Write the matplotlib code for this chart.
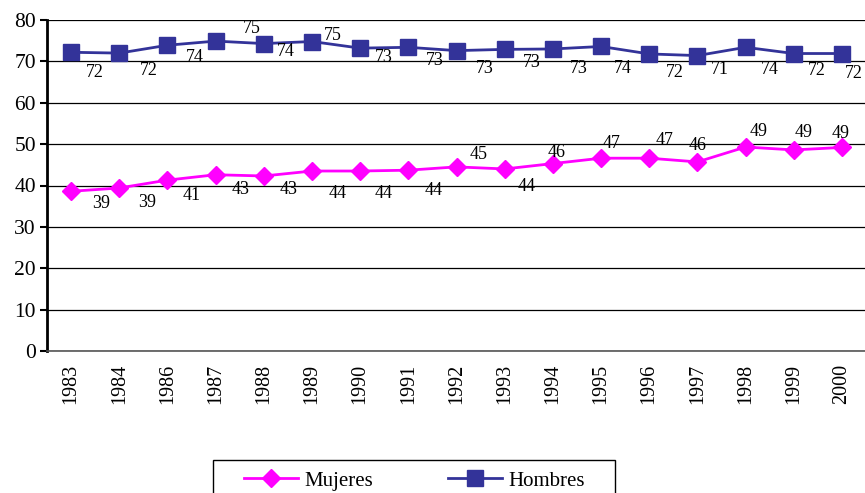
import matplotlib
matplotlib.use("Agg")
import matplotlib.pyplot as plt
from matplotlib.patches import Rectangle

years = ["1983", "1984", "1986", "1987", "1988", "1989", "1990", "1991", "1992",
         "1993", "1994", "1995", "1996", "1997", "1998", "1999", "2000"]
mujeres = [38.6, 39.4, 41.3, 42.6, 42.3, 43.5, 43.5, 43.7, 44.5, 44.0, 45.3,
           46.6, 46.6, 45.7, 49.3, 48.6, 49.2]
hombres = [72.2, 72.0, 73.9, 74.9, 74.3, 74.8, 73.2, 73.4, 72.6, 72.9, 73.0,
           73.6, 71.8, 71.4, 73.4, 71.9, 71.9]
mujeres_labels = ["39", "39", "41", "43", "43", "44", "44", "44", "45", "44", "46",
                  "47", "47", "46", "49", "49", "49"]
hombres_labels = ["72", "72", "74", "75", "74", "75", "73", "73", "73", "73", "73",
                  "74", "72", "71", "74", "72", "72"]
yticks = [0, 10, 20, 30, 40, 50, 60, 70, 80]

# label offsets in pixels (dx, dy) relative to the point
h_off = [(24, -20), (30, -17), (27, -12), (36, 13), (22, -8), (21, 6), (24, -9), (26, -13),
         (28, -18), (27, -13), (26, -20), (22, -22), (26, -19), (22, -14), (24, -22), (23, -17), (12, -20)]
m_off = [(30, -12), (28, -15), (24, -15), (25, -15), (25, -14), (26, -22), (23, -22), (25, -20),
         (22, 12), (22, -18), (4, 11), (11, 15), (15, 18), (0, 16), (13, 16), (10, 17), (-1, 14)]

serif = ["Liberation Serif", "DejaVu Serif"]
plt.rcParams["font.family"] = serif

W, H = 865, 493
fig = plt.figure(figsize=(W / 100, H / 100), dpi=100)
ax = fig.add_axes([47 / W, 1 - 351 / H, (866 - 47) / W, (351 - 20) / H])

x = list(range(len(years)))
ax.plot(x, mujeres, color="#FF00FF", lw=2, marker="D", markersize=9,
        markeredgecolor="#FF00FF", label="Mujeres", zorder=3, clip_on=False)
ax.plot(x, hombres, color="#333399", lw=2, marker="s", markersize=11,
        markeredgecolor="#333399", label="Hombres", zorder=3, clip_on=False)

for i in x:
    ax.annotate(hombres_labels[i], (i, hombres[i]), xytext=h_off[i], textcoords="offset pixels",
                ha="center", va="center", fontsize=13, color="black")
    ax.annotate(mujeres_labels[i], (i, mujeres[i]), xytext=m_off[i], textcoords="offset pixels",
                ha="center", va="center", fontsize=13, color="black")

ax.set_xlim(-0.5, len(years) - 0.5)
ax.set_ylim(0, 80)
ax.set_yticks(yticks)
ax.set_yticklabels([str(t) for t in yticks], fontsize=15.5)
ax.set_xticks(x)
ax.set_xticklabels(years, rotation=90, fontsize=14.5)
ax.tick_params(axis="x", length=0, pad=9)
ax.tick_params(axis="y", length=5, width=1.5, direction="out", pad=3)
ax.grid(axis="y", color="black", lw=0.9)
ax.set_axisbelow(True)
for s in ["top", "right"]:
    ax.spines[s].set_visible(False)
ax.spines["left"].set_linewidth(2)
ax.spines["bottom"].set_color("#555555")
ax.spines["bottom"].set_linewidth(1.2)

# legend frame
fig.patches.append(Rectangle((213 / W, -0.05), (615 - 213) / W, (1 - 460 / H) + 0.05,
                             transform=fig.transFigure, fill=False, edgecolor="black",
                             lw=1, zorder=1))
leg = fig.legend(loc="center left", bbox_to_anchor=(244 / W, 1 - 481 / H), ncol=2,
                 frameon=False, handlelength=2.6, handletextpad=0.3,
                 columnspacing=3.6, borderpad=0, borderaxespad=0,
                 prop={"family": serif, "size": 15})

fig.savefig("out.png", dpi=100)
